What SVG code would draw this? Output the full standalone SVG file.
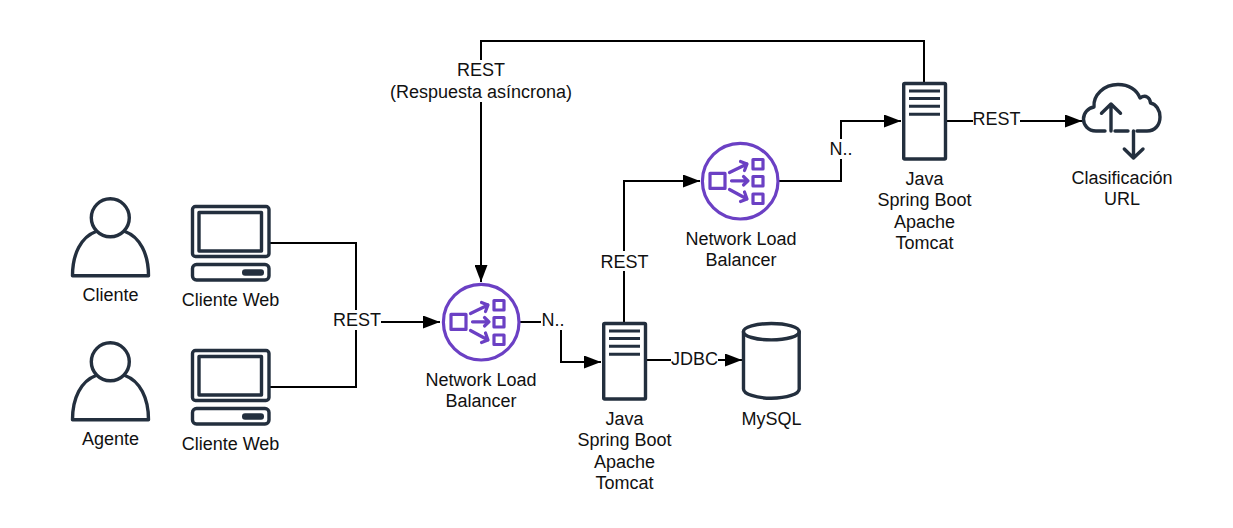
<svg xmlns="http://www.w3.org/2000/svg" width="1233" height="528" viewBox="0 0 1233 528">
<style>
text{font-family:"Liberation Sans",Arial,sans-serif;font-size:18px;fill:#111;text-anchor:middle}
.i{fill:none;stroke:#232f3e;stroke-width:3.4;stroke-linejoin:round;stroke-linecap:round}
.p{fill:none;stroke:#6b40c4;stroke-width:3.2;stroke-linejoin:round;stroke-linecap:round}
.c{fill:none;stroke:#000;stroke-width:2}
.lb{fill:#fff}
</style>
<defs>
<marker id="a" markerUnits="userSpaceOnUse" markerWidth="18" markerHeight="13" refX="17" refY="6.500" orient="auto"><path d="M0 0L17 6.500L0 13Z" fill="#000"/></marker>
<g id="person"><circle class="i" cx="110.300" cy="217.800" r="19"/><path class="i" d="M96 231.500C81 237 72.500 254 72.500 275.700H148.500C148.500 254 140 237 125 231.500"/></g>
<g id="pc"><rect class="i" x="192.500" y="206.500" width="76.500" height="50" rx="3"/><rect class="i" x="199" y="212.500" width="62.500" height="38.500"/><rect class="i" x="192.500" y="264.500" width="76.500" height="15.500" rx="4"/><rect x="242" y="269.300" width="22" height="6.400" rx="3" fill="#232f3e"/></g>
<g id="nlb"><circle class="p" cx="481.200" cy="322.200" r="37.800"/><rect class="p" x="451" y="314.400" width="15" height="15"/><rect class="p" x="494" y="300.500" width="10" height="9.500"/><rect class="p" x="494" y="317.500" width="10" height="9.500"/><rect class="p" x="494" y="335" width="10" height="9.500"/><path class="p" d="M470.500 313.500L488 305M481.500 302.500L488 305L485.500 311.500M472.500 321.800H489M484.500 317.500L489 321.800L484.500 326M470.500 330.500L488 340M485.500 333L488 340L481.500 342.500"/></g>
<g id="srv"><rect class="i" x="603.700" y="323.500" width="41.800" height="75.500" rx="1"/><path d="M609 331H640M609 338.500H640M609 346.300H640M609 354.300H640" fill="none" stroke="#232f3e" stroke-width="3"/></g>
</defs>
<g id="connectors">
<path class="c" d="M270 243H356V387H270"/>
<path class="c" d="M356 322H440" marker-end="url(#a)"/>
<path class="c" d="M520 322H561V362H601" marker-end="url(#a)"/>
<path class="c" d="M624 322V181H700" marker-end="url(#a)"/>
<path class="c" d="M647 360H742" marker-end="url(#a)"/>
<path class="c" d="M779 181H841V121H901" marker-end="url(#a)"/>
<path class="c" d="M947 121H1082" marker-end="url(#a)"/>
<path class="c" d="M924 82V41H481V282" marker-end="url(#a)"/>
<rect class="lb" x="333" y="310" width="48" height="20"/>
<text x="357" y="326">REST</text>
<rect class="lb" x="541" y="310" width="24" height="20"/>
<text x="553" y="326">N..</text>
<rect class="lb" x="600" y="251" width="48" height="20"/>
<text x="624.500" y="267.500">REST</text>
<rect class="lb" x="671" y="349" width="47" height="20"/>
<text x="694.500" y="365">JDBC</text>
<rect class="lb" x="829" y="139" width="24" height="20"/>
<text x="841" y="155">N..</text>
<rect class="lb" x="973" y="109" width="47" height="20"/>
<text x="996.500" y="124.500">REST</text>
<rect class="lb" x="390" y="60" width="182" height="42"/>
<text x="481" y="76">REST</text>
<text x="481" y="98">(Respuesta asíncrona)</text>
</g>
<g id="cliente"><use href="#person"/><text x="110.500" y="300.500">Cliente</text></g>
<g id="agente"><use href="#person" y="144"/><text x="110.500" y="444.500">Agente</text></g>
<g id="web1"><use href="#pc"/><text x="230.500" y="305.500">Cliente Web</text></g>
<g id="web2"><use href="#pc" y="144"/><text x="230.500" y="449.500">Cliente Web</text></g>
<g id="nlb1"><use href="#nlb"/><text x="481" y="385.500">Network Load</text><text x="481" y="407">Balancer</text></g>
<g id="nlb2"><use href="#nlb" x="259" y="-141"/><text x="741" y="244.500">Network Load</text><text x="741" y="266">Balancer</text></g>
<g id="srv1"><use href="#srv"/><text x="624.500" y="424.500">Java</text><text x="624.500" y="446">Spring Boot</text><text x="624.500" y="467.500">Apache</text><text x="624.500" y="489">Tomcat</text></g>
<g id="srv2"><use href="#srv" x="300" y="-240"/><text x="924.500" y="184.500">Java</text><text x="924.500" y="206">Spring Boot</text><text x="924.500" y="227.500">Apache</text><text x="924.500" y="249">Tomcat</text></g>
<g id="mysql"><path class="i" d="M743.500 331.700V389C743.500 394 756 398.200 771.300 398.200C787 398.200 799.200 394 799.200 389V331.700"/><ellipse class="i" cx="771.300" cy="331.700" rx="27.900" ry="8.200"/><text x="771.500" y="424.500">MySQL</text></g>
<g id="url"><path class="i" d="M1105 131H1096C1088 131 1083.500 125 1083.500 119C1083.500 113 1088 108 1094 107C1093 95 1104 84.500 1118 84.500C1129 84.500 1137 90 1140 98C1146 94 1150 98 1150.500 103C1156 104 1160 110 1160 117C1160 125 1155 131 1147 131H1137M1115 131H1128"/><path class="i" d="M1111 131V104M1101.500 113.300L1111 104L1120.500 113.300"/><path class="i" d="M1133.500 131V158M1124.300 149L1133.500 158L1143 149"/><text x="1122" y="183.500">Clasificación</text><text x="1122" y="205">URL</text></g>
</svg>
